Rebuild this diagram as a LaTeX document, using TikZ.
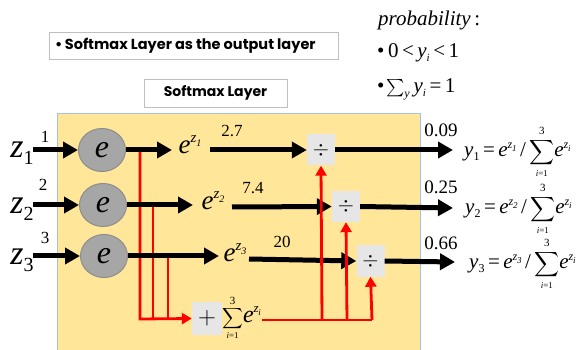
\documentclass[tikz,border=0pt]{standalone}
\usepackage{exscale}
\usepackage{fontspec}
\setmainfont{Liberation Serif}
\newfontfamily\titlefont{Poppins}
\usetikzlibrary{arrows.meta,shapes.geometric}
\definecolor{panel}{HTML}{FFE699}
\definecolor{panelborder}{HTML}{9DC3E6}
\definecolor{circfill}{HTML}{A6A6A6}
\definecolor{circborder}{HTML}{8C8C8C}
\definecolor{opbox}{HTML}{E7E6E6}
\definecolor{boxborder}{HTML}{BFBFBF}
% e^{z_k}: #1 e size, #2 raise, #3 z size, #4 index size, #5 index
\newcommand{\myexp}[5]{{\fontsize{#1}{#1}\selectfont\itshape e}\raisebox{#2}{\fontsize{#3}{#3}\selectfont\itshape z\kern-0.3pt\raisebox{-0.22em}{\fontsize{#4}{#4}\selectfont #5}}}
% sum with limits: #1 sum size, #2 lower size, #3 upper size
\newcommand{\mysum}[3]{{\fontsize{#1}{#1}\selectfont$\displaystyle\sum_{\mbox{\fontsize{#2}{#2}\selectfont\itshape i\upshape =1}}^{\mbox{\fontsize{#3}{#3}\selectfont 3}}$}}
\tikzset{
  blk/.style={line width=5pt,-{Triangle[length=15pt,width=16pt]}},
  redl/.style={line width=2.8pt,red},
  reda/.style={line width=2.8pt,red,-{Triangle[length=10pt,width=11pt]}},
  enode/.style={ellipse,fill=circfill,draw=circborder,line width=1pt,minimum width=47pt,minimum height=43pt,inner sep=0pt,font=\fontsize{32}{32}\selectfont\itshape},
  opnode/.style={fill=opbox,minimum width=28pt,minimum height=31pt,inner sep=0pt},
  titlebox/.style={draw=boxborder,line width=0.8pt,inner sep=0pt,font=\titlefont\bfseries\fontsize{14}{16}\selectfont},
  zlab/.style={font=\fontsize{34}{34}\selectfont\itshape,inner sep=0pt},
  num/.style={font=\fontsize{17}{17}\selectfont,inner sep=0pt},
  bignum/.style={font=\fontsize{19}{19}\selectfont,inner sep=0pt},
  expo/.style={inner sep=0pt},
  ylab/.style={font=\fontsize{21}{21}\selectfont,inner sep=0pt,anchor=west},
}
\begin{document}
\begin{tikzpicture}[x=1pt,y=-1pt]
\useasboundingbox (0,0) rectangle (579,350);
% panel
\filldraw[fill=panel,draw=panelborder,line width=0.8pt] (57,113) rectangle (420,360);
% title boxes
\node[titlebox,minimum width=289pt,minimum height=27pt] (t1) at (193.5,45.5) {};
\node[anchor=west,font=\titlefont\bfseries\fontsize{14.5}{16}\selectfont,inner sep=0pt] (t1txt) at (55,45.5) {\textbullet\,Softmax Layer as the output layer};
\node[titlebox,minimum width=143pt,minimum height=28pt,fill=white] (t2) at (215.5,93) {Softmax Layer};
% probability
\node[anchor=west,inner sep=0pt,font=\fontsize{21}{21}\selectfont\itshape] (prob) at (378,20) {probability\,\upshape:};
\node[anchor=west,inner sep=0pt,font=\fontsize{21}{21}\selectfont] (p1) at (377,53) {\textbullet\,0\,<\,\textit{y}\raisebox{-0.2em}{\fontsize{11}{11}\selectfont\itshape i}\,<\,1};
\node[anchor=west,inner sep=0pt,font=\fontsize{21}{21}\selectfont] (p2) at (377,89) {\textbullet\kern1.5pt{\fontsize{17}{17}\selectfont$\sum\nolimits_{\mbox{\fontsize{12}{12}\selectfont\itshape y}}$}\,\textit{y}\raisebox{-0.2em}{\fontsize{11}{11}\selectfont\itshape i}\,=\,1};
% inputs
\node[zlab] (z1) at (22,153) {z\raisebox{-7pt}{\fontsize{20}{20}\selectfont\upshape 1}};
\node[zlab] (z2) at (22,209) {z\raisebox{-7pt}{\fontsize{20}{20}\selectfont\upshape 2}};
\node[zlab] (z3) at (22,260) {z\raisebox{-7pt}{\fontsize{20}{20}\selectfont\upshape 3}};
\node[num] (n1) at (45,137) {1};
\node[num] (n2) at (43,185) {2};
\node[num] (n3) at (45,238) {3};
\coordinate (i1) at (33,150);
\coordinate (i2) at (33,205);
\coordinate (i3) at (33,256);
% exp nodes
\node[enode] (c1) at (102,150) {e};
\node[enode] (c2) at (103,205) {e};
\node[enode] (c3) at (104,256) {e};
\draw[blk] (i1) -- (c1.west);
\draw[blk] (i2) -- (c2.west);
\draw[blk] (i3) -- (c3.west);
% exponent outputs
\node[expo] (e1) at (190,145) {\myexp{27}{11pt}{15}{10}{1}};
\node[expo] (e2) at (213,201) {\myexp{27}{11pt}{15}{10}{2}};
\node[expo] (e3) at (235,253) {\myexp{27}{11pt}{15}{10}{3}};
\coordinate (a1) at (172,150);
\coordinate (a2) at (193,205);
\coordinate (a3) at (219,256);
% branch points
\coordinate (b1) at (140,150);
\coordinate (b2) at (153,205);
\coordinate (b3) at (168,256);
\coordinate (r1) at (140,319);
\coordinate (r2) at (153,319);
\coordinate (r3) at (168,319);
% red collection
\draw[redl] (b2) -- (r2);
\draw[redl] (b3) -- (r3);
\node[opnode,minimum width=30pt,minimum height=33pt,font=\fontsize{28}{28}\selectfont] (plus) at (207,318.5) {$+$};
\node[anchor=west,inner sep=0pt] (sum) at (222,318) {\mysum{15}{9}{11}\myexp{24}{10pt}{13}{9}{\textit{i}}};
\draw[reda] (b1) -- (r1) -- (plus.west);
\draw[blk] (c1.east) -- (a1);
\draw[blk] (c2.east) -- (a2);
\draw[blk] (c3.east) -- (a3);
% division nodes
\node[opnode,font=\fontsize{20}{20}\selectfont] (d1) at (321,150) {$\div$};
\node[opnode,font=\fontsize{20}{20}\selectfont] (d2) at (346,206.5) {$\div$};
\node[opnode,font=\fontsize{20}{20}\selectfont] (d3) at (370.5,261) {$\div$};
\coordinate (s1) at (210,150);
\coordinate (s2) at (232,207);
\coordinate (s3) at (249,259);
\draw[blk] (s1) -- (d1.west);
\draw[blk] (s2) -- (d2.west);
\draw[blk] (s3) -- (d3.west);
\node[num] (v1) at (232,131) {2.7};
\node[num] (v2) at (253,188) {7.4};
\node[num] (v3) at (282,242) {20};
% red distribution
\coordinate (q0) at (262,320);
\coordinate (q1) at (322,320);
\coordinate (q2) at (347,320);
\coordinate (q3) at (372,320);
\draw[redl] (q0) -- (q3);
\draw[reda] (q1) -- (d1.south);
\draw[reda] (q2) -- (d2.south);
\draw[reda] (q3) -- (d3.south);
% outputs
\coordinate (o1) at (453,150);
\coordinate (o2) at (453,208);
\coordinate (o3) at (455,262);
\draw[blk] (d1.east) -- (o1);
\draw[blk] (d2.east) -- (o2);
\draw[blk] (d3.east) -- (o3);
\node[bignum] (w1) at (441,130) {0.09};
\node[bignum] (w2) at (441,187) {0.25};
\node[bignum] (w3) at (441,243) {0.66};
\node[ylab] (y1) at (464,152) {\textit{y}\raisebox{-0.2em}{\fontsize{12}{12}\selectfont 1}\,=\,\myexp{21}{8pt}{12}{9}{1}\,/\,\mysum{18}{9}{11}\myexp{21}{8pt}{12}{9}{\textit{i}}};
\node[ylab] (y2) at (465,209) {\textit{y}\raisebox{-0.2em}{\fontsize{12}{12}\selectfont 2}\,=\,\myexp{21}{8pt}{12}{9}{2}\,/\,\mysum{18}{9}{11}\myexp{21}{8pt}{12}{9}{\textit{i}}};
\node[ylab] (y3) at (469,264) {\textit{y}\raisebox{-0.2em}{\fontsize{12}{12}\selectfont 3}\,=\,\myexp{21}{8pt}{12}{9}{3}\,/\,\mysum{18}{9}{11}\myexp{21}{8pt}{12}{9}{\textit{i}}};
\end{tikzpicture}
\end{document}
